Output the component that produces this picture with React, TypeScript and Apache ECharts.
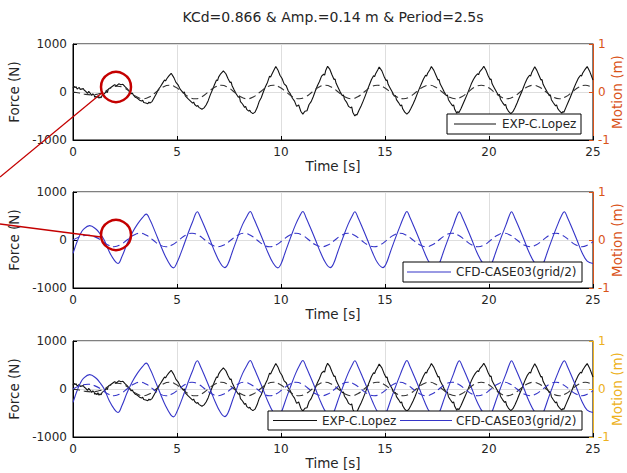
import React, { useEffect, useRef } from "react";
import * as echarts from "echarts";

const chartTitle = "KCd=0.866 & Amp.=0.14 m & Period=2.5s";
const expName = "EXP-C.Lopez";
const cfdName = "CFD-CASE03(grid/2)";
const motionLabel = "Motion (m)";

// EXP force: [time s, force N]
const expForce: number[][] = [
  [0.0, 80], [0.05, 120], [0.1, 90], [0.15, 110], [0.2, 60], [0.3, 95], [0.35, 50], [0.4, 60], [0.5, 70], [0.55, 30], [0.6, 20], [0.7, -30], [0.75, 10], [0.8, -10], [0.9, -70],
  [0.95, -40], [1.0, -50], [1.05, -110], [1.1, -90], [1.15, -120], [1.2, -80], [1.25, -130], [1.3, -100], [1.35, -120], [1.4, -70], [1.5, -40], [1.6, 10], [1.65, -10], [1.7, 60], [1.8, 90], [1.9, 120],
  [2.0, 150], [2.1, 130], [2.2, 170], [2.3, 150], [2.4, 160], [2.5, 110], [2.6, 70], [2.7, 20], [2.8, -40], [2.85, -20], [2.9, -60],
  [3.0, -110], [3.1, -130], [3.2, -170], [3.3, -190], [3.35, -170], [3.4, -220], [3.5, -230], [3.6, -245], [3.65, -210], [3.7, -230], [3.8, -200], [3.9, -120],
  [4.0, -40], [4.1, 50], [4.2, 110], [4.3, 180], [4.4, 250], [4.45, 230], [4.5, 270], [4.6, 330], [4.72, 390], [4.85, 300], [4.95, 200],
  [5.05, 150], [5.15, 60], [5.3, -20], [5.35, 0], [5.4, -80], [5.55, -150], [5.65, -190], [5.75, -230], [5.8, -210], [5.85, -260], [5.95, -300], [6.0, -280], [6.05, -320],
  [6.2, -360], [6.3, -330], [6.4, -270], [6.5, -180], [6.6, -60], [6.7, 40], [6.8, 150], [6.9, 250], [6.95, 240], [7.0, 310], [7.1, 380],
  [7.23, 440], [7.35, 380], [7.45, 280], [7.55, 200], [7.6, 210], [7.65, 130], [7.75, 40], [7.85, -40], [7.95, -110], [8.0, -90], [8.05, -200], [8.15, -250],
  [8.25, -320], [8.3, -300], [8.35, -360], [8.45, -400], [8.5, -380], [8.55, -420], [8.65, -450], [8.75, -420], [8.85, -330], [8.95, -200], [9.05, -120], [9.15, 0],
  [9.25, 110], [9.35, 200], [9.45, 330], [9.5, 310], [9.55, 360], [9.65, 450], [9.75, 530], [9.85, 460], [9.95, 350], [10.05, 280], [10.15, 170],
  [10.25, 130], [10.35, 20], [10.45, -40], [10.55, -130], [10.65, -190], [10.75, -300], [10.85, -270], [10.95, -400], [11.05, -460], [11.15, -400],
  [11.25, -390], [11.35, -260], [11.45, -200], [11.55, -100], [11.65, 20], [11.75, 130], [11.85, 220], [11.95, 330], [12.05, 370], [12.1, 350], [12.15, 450],
  [12.24, 535], [12.35, 470], [12.45, 360], [12.55, 260], [12.6, 270], [12.65, 180], [12.75, 90], [12.85, 0], [12.95, -80], [13.0, -60], [13.05, -150], [13.15, -210],
  [13.25, -300], [13.35, -330], [13.4, -310], [13.45, -420], [13.55, -500], [13.6, -470], [13.65, -480], [13.75, -380], [13.85, -290], [13.95, -190], [14.05, -80], [14.15, 40],
  [14.25, 150], [14.35, 260], [14.45, 340], [14.5, 320], [14.55, 380], [14.65, 460], [14.72, 520], [14.85, 440], [14.95, 330], [15.05, 240], [15.1, 250], [15.15, 160],
  [15.25, 80], [15.35, 0], [15.45, -90], [15.5, -70], [15.55, -160], [15.65, -220], [15.75, -290], [15.8, -270], [15.85, -350], [15.95, -420], [16.05, -460], [16.15, -420],
  [16.25, -340], [16.35, -250], [16.45, -150], [16.55, -40], [16.65, 70], [16.75, 170], [16.85, 270], [16.95, 350], [17.0, 330], [17.05, 390], [17.15, 460],
  [17.23, 530], [17.35, 450], [17.45, 350], [17.55, 250], [17.6, 260], [17.65, 170], [17.75, 90], [17.85, 0], [17.95, -80], [18.0, -60], [18.05, -160], [18.15, -230],
  [18.25, -290], [18.3, -270], [18.35, -360], [18.45, -440], [18.5, -410], [18.55, -430], [18.65, -350], [18.75, -250], [18.85, -150], [18.95, -50], [19.05, 60], [19.15, 170],
  [19.25, 260], [19.35, 330], [19.45, 380], [19.5, 360], [19.55, 420], [19.65, 470], [19.75, 535], [19.85, 460], [19.95, 350], [20.05, 260], [20.1, 270], [20.15, 170],
  [20.25, 90], [20.35, 10], [20.45, -70], [20.5, -50], [20.55, -150], [20.65, -220], [20.75, -280], [20.8, -260], [20.85, -340], [20.95, -410], [21.05, -450], [21.15, -410],
  [21.25, -330], [21.35, -230], [21.45, -120], [21.55, -20], [21.65, 90], [21.75, 200], [21.85, 290], [21.95, 350], [22.0, 330], [22.05, 400], [22.2, 525],
  [22.3, 450], [22.4, 350], [22.5, 250], [22.55, 260], [22.6, 160], [22.7, 80], [22.8, 0], [22.9, -80], [22.95, -60], [23.0, -160], [23.1, -230], [23.2, -290],
  [23.25, -270], [23.3, -340], [23.4, -400], [23.5, -440], [23.55, -410], [23.6, -420], [23.7, -320], [23.8, -220], [23.9, -120], [24.0, -10], [24.1, 100], [24.2, 200],
  [24.3, 290], [24.4, 350], [24.45, 330], [24.5, 390], [24.6, 460], [24.72, 530], [24.85, 420], [25.0, 250],
];

// EXP motion: [time s, displacement m]
const expMotion: number[][] = [
  [0, 0], [0.3, -0.02], [0.6, -0.05], [0.9, -0.06], [1.2, -0.04], [1.5, 0], [1.81, 0.085], [2.13, 0.12], [2.44, 0.09], [2.75, 0],
  [3.06, -0.099], [3.38, -0.14], [3.69, -0.099], [4.0, 0], [4.31, 0.099], [4.63, 0.14], [4.94, 0.099], [5.25, 0],
  [5.56, -0.099], [5.88, -0.14], [6.19, -0.099], [6.5, 0], [6.81, 0.099], [7.13, 0.14], [7.44, 0.099], [7.75, 0],
  [8.06, -0.099], [8.38, -0.14], [8.69, -0.099], [9.0, 0], [9.31, 0.099], [9.63, 0.14], [9.94, 0.099], [10.25, 0],
  [10.56, -0.099], [10.88, -0.14], [11.19, -0.099], [11.5, 0], [11.81, 0.099], [12.13, 0.14], [12.44, 0.099], [12.75, 0],
  [13.06, -0.099], [13.38, -0.14], [13.69, -0.099], [14.0, 0], [14.31, 0.099], [14.63, 0.14], [14.94, 0.099], [15.25, 0],
  [15.56, -0.099], [15.88, -0.14], [16.19, -0.099], [16.5, 0], [16.81, 0.099], [17.13, 0.14], [17.44, 0.099], [17.75, 0],
  [18.06, -0.099], [18.38, -0.14], [18.69, -0.099], [19.0, 0], [19.31, 0.099], [19.63, 0.14], [19.94, 0.099], [20.25, 0],
  [20.56, -0.099], [20.88, -0.14], [21.19, -0.099], [21.5, 0], [21.81, 0.099], [22.13, 0.14], [22.44, 0.099], [22.75, 0],
  [23.06, -0.099], [23.38, -0.14], [23.69, -0.099], [24.0, 0], [24.31, 0.099], [24.63, 0.14], [25.0, 0.085],
];

// CFD force: [time s, force N]
const cfdForce: number[][] = [
  [0.0, -280], [0.1, -150], [0.2, -30], [0.35, 120], [0.5, 220], [0.8, 300], [1.1, 230], [1.3, 130], [1.5, 0], [1.75, -250],
  [2.0, -430], [2.16, -490], [2.35, -350], [2.6, -80], [2.85, 150], [3.1, 330], [3.35, 470], [3.52, 540], [3.7, 420], [3.95, 170],
  [4.2, -100], [4.45, -350], [4.7, -540], [4.83, -580], [5.0, -470], [5.25, -200], [5.5, 100], [5.75, 380],
  [5.98, 590], [6.13, 470], [6.33, 270], [6.58, 10], [6.83, -260], [7.08, -480], [7.3, -575], [7.45, -500], [7.65, -260], [7.9, 40], [8.15, 320], [8.37, 500],
  [8.52, 595], [8.67, 470], [8.87, 270], [9.12, 10], [9.37, -260], [9.62, -480], [9.85, -580], [10.0, -500], [10.2, -260], [10.45, 40], [10.7, 320], [10.9, 500],
  [11.05, 595], [11.2, 470], [11.4, 270], [11.65, 10], [11.9, -260], [12.15, -480], [12.37, -575], [12.52, -500], [12.72, -260], [12.97, 40], [13.22, 320], [13.42, 500],
  [13.55, 590], [13.7, 470], [13.9, 270], [14.15, 10], [14.4, -260], [14.65, -480], [14.9, -575], [15.05, -500], [15.25, -260], [15.5, 40], [15.75, 320], [15.92, 500],
  [16.05, 595], [16.2, 470], [16.4, 270], [16.65, 10], [16.9, -260], [17.15, -480], [17.45, -580], [17.6, -500], [17.8, -260], [18.05, 40], [18.3, 320], [18.45, 500],
  [18.57, 590], [18.72, 470], [18.92, 270], [19.17, 10], [19.42, -260], [19.7, -480], [19.98, -575], [20.12, -500], [20.32, -260], [20.57, 40], [20.82, 320], [20.97, 500],
  [21.08, 590], [21.23, 470], [21.43, 270], [21.68, 10], [21.93, -260], [22.2, -480], [22.45, -575], [22.6, -500], [22.8, -260], [23.05, 40], [23.3, 320], [23.48, 500],
  [23.62, 590], [23.77, 470], [23.97, 270], [24.22, 10], [24.47, -260], [24.72, -440], [25.0, -490],
];

// CFD motion: [time s, displacement m]
const cfdMotion: number[][] = [
  [0, 0], [0.35, 0.07], [0.72, 0.1], [1.03, 0.07], [1.345, 0], [1.66, -0.099], [1.97, -0.14], [2.28, -0.099],
  [2.595, 0], [2.91, 0.099], [3.22, 0.14], [3.53, 0.099], [3.845, 0], [4.16, -0.099], [4.47, -0.14], [4.78, -0.099],
  [5.095, 0], [5.41, 0.099], [5.72, 0.14], [6.03, 0.099], [6.345, 0], [6.66, -0.099], [6.97, -0.14], [7.28, -0.099],
  [7.595, 0], [7.91, 0.099], [8.22, 0.14], [8.53, 0.099], [8.845, 0], [9.16, -0.099], [9.47, -0.14], [9.78, -0.099],
  [10.095, 0], [10.41, 0.099], [10.72, 0.14], [11.03, 0.099], [11.345, 0], [11.66, -0.099], [11.97, -0.14], [12.28, -0.099],
  [12.595, 0], [12.91, 0.099], [13.22, 0.14], [13.53, 0.099], [13.845, 0], [14.16, -0.099], [14.47, -0.14], [14.78, -0.099],
  [15.095, 0], [15.41, 0.099], [15.72, 0.14], [16.03, 0.099], [16.345, 0], [16.66, -0.099], [16.97, -0.14], [17.28, -0.099],
  [17.595, 0], [17.91, 0.099], [18.22, 0.14], [18.53, 0.099], [18.845, 0], [19.16, -0.099], [19.47, -0.14], [19.78, -0.099],
  [20.095, 0], [20.41, 0.099], [20.72, 0.14], [21.03, 0.099], [21.345, 0], [21.66, -0.099], [21.97, -0.14], [22.28, -0.099],
  [22.595, 0], [22.91, 0.099], [23.22, 0.14], [23.53, 0.099], [23.845, 0], [24.16, -0.099], [24.47, -0.14], [24.78, -0.099],
  [25.0, -0.035],
];

const FONT = "DejaVu Sans";
const TXT = "#262626";
const BLACK = "#111111";
const BLUE = "#3535c8";
const RED = "#c40000";
const ORANGE = "#D95319";
const YELLOW = "#EDB120";

const gridTops = [44, 192, 341];
const GRID_H = 96;
const motionColors = [ORANGE, ORANGE, YELLOW];

export default function App() {
  const ref = useRef<HTMLDivElement>(null);
  useEffect(() => {
    if (!ref.current) return;
    const chart = echarts.init(ref.current, null, { renderer: "svg" });

    const grids = gridTops.map((top) => ({
      left: 73, top, width: 520, height: GRID_H, outerBoundsMode: "none", containLabel: false,
      show: true, borderColor: "#000", borderWidth: 1, backgroundColor: "transparent",
    }));

    const plain = (v: number) => String(v);

    const xAxes = gridTops.map((_, i) => ({
      type: "value", gridIndex: i, min: 0, max: 25, interval: 5,
      name: "Time [s]", nameLocation: "middle", nameGap: 19,
      nameTextStyle: { fontSize: 13.5, color: TXT, fontFamily: FONT },
      axisLine: { show: true, onZero: false, lineStyle: { color: "#000", width: 1 } },
      axisTick: { show: true, inside: true, length: 4, lineStyle: { color: "#000" } },
      axisLabel: { fontSize: 12, color: TXT, margin: 6, fontFamily: FONT, formatter: plain },
      splitLine: { show: true, lineStyle: { color: "#dedede", width: 1 } },
    }));

    const yAxes: any[] = [];
    gridTops.forEach((_, i) => {
      yAxes.push({
        type: "value", gridIndex: i, position: "left", min: -1000, max: 1000, interval: 1000,
        name: "Force (N)", nameLocation: "middle", nameGap: 39, nameRotate: 90,
        nameTextStyle: { fontSize: 13.5, color: TXT, fontFamily: FONT },
        axisLine: { show: true, onZero: false, lineStyle: { color: "#000", width: 1 } },
        axisTick: { show: true, inside: true, length: 4, lineStyle: { color: "#000" } },
        axisLabel: { fontSize: 12, color: TXT, margin: 6, fontFamily: FONT, formatter: plain },
        splitLine: { show: true, lineStyle: { color: "#dedede", width: 1 } },
      });
      yAxes.push({
        type: "value", gridIndex: i, position: "right", min: -1, max: 1, interval: 1,
        axisLine: { show: true, onZero: false, lineStyle: { color: motionColors[i], width: 1 } },
        axisTick: { show: true, inside: true, length: 4, lineStyle: { color: motionColors[i] } },
        axisLabel: { fontSize: 12, color: motionColors[i], margin: 5, fontFamily: FONT, formatter: plain },
        splitLine: { show: false },
      });
    });

    const line = (name: string, data: number[][], panel: number, motion: boolean, color: string, smooth: any) => ({
      type: "line", name, data, xAxisIndex: panel, yAxisIndex: panel * 2 + (motion ? 1 : 0),
      showSymbol: false, symbol: "none", smooth, z: motion ? 3 : 2,
      lineStyle: { color, width: 1.1, type: motion ? [7, 4] : "solid" },
      itemStyle: { color }, silent: true,
    });

    const series = [
      line(expName, expForce, 0, false, BLACK, false),
      line("EXP motion", expMotion, 0, true, "#333333", true),
      line(cfdName, cfdForce, 1, false, BLUE, 0.4),
      line("CFD motion", cfdMotion, 1, true, BLUE, true),
      line(expName + " ", expForce, 2, false, BLACK, false),
      line("EXP motion ", expMotion, 2, true, "#333333", true),
      line(cfdName + " ", cfdForce, 2, false, BLUE, 0.4),
      line("CFD motion ", cfdMotion, 2, true, BLUE, true),
    ];

    const legendText = (x: number, y: number, text: string) => ({
      type: "text", x, y, z: 100,
      style: { text, fill: TXT, fontSize: 12, fontFamily: FONT, textVerticalAlign: "middle", textAlign: "left" },
    });
    const legendLine = (x1: number, x2: number, y: number, color: string) => ({
      type: "line", z: 100, shape: { x1, y1: y, x2, y2: y }, style: { stroke: color, lineWidth: 1.2 },
    });
    const legendBox = (x: number, y: number, width: number, height: number) => ({
      type: "rect", z: 99, shape: { x, y, width, height }, style: { fill: "#fff", stroke: "#000", lineWidth: 1 },
    });
    const motionName = (i: number) => ({
      type: "text", x: 617, y: gridTops[i] + GRID_H / 2, rotation: Math.PI / 2, z: 50,
      style: {
        text: motionLabel, fill: motionColors[i], fontSize: 13.5, fontFamily: FONT,
        textAlign: "center", textVerticalAlign: "middle",
      },
    });

    const graphic = [
      motionName(0), motionName(1), motionName(2),
      legendBox(447, 114, 134, 20), legendLine(454, 496, 124, BLACK), legendText(502, 124, expName),
      legendBox(403, 262, 179, 20), legendLine(407, 451, 272, BLUE), legendText(456, 272, cfdName),
      legendBox(268, 411, 314, 19), legendLine(273, 317, 420.5, BLACK), legendText(322, 420.5, expName),
      legendLine(400, 452, 420.5, BLUE), legendText(456, 420.5, cfdName),
      { type: "circle", z: 200, shape: { cx: 116, cy: 87, r: 15 }, style: { fill: "none", stroke: RED, lineWidth: 2.5 } },
      { type: "circle", z: 200, shape: { cx: 116, cy: 235, r: 15 }, style: { fill: "none", stroke: RED, lineWidth: 2.5 } },
      { type: "line", z: 200, shape: { x1: 0, y1: 177, x2: 103, y2: 92 }, style: { stroke: RED, lineWidth: 1.3 } },
      { type: "line", z: 200, shape: { x1: 0, y1: 224, x2: 101, y2: 237 }, style: { stroke: RED, lineWidth: 1.3 } },
    ];

    chart.setOption({
      animation: false,
      backgroundColor: "#ffffff",
      textStyle: { fontFamily: FONT },
      title: {
        text: chartTitle, left: 328, top: 5, textAlign: "center",
        textStyle: { fontSize: 14, fontWeight: "normal", color: TXT, fontFamily: FONT },
      },
      grid: grids,
      xAxis: xAxes,
      yAxis: yAxes,
      series,
      graphic,
    });
    return () => chart.dispose();
  }, []);
  return (
    <div
      ref={ref}
      style={{ position: "fixed", left: 0, top: 0, width: 627, height: 473, background: "#fff" }}
    />
  );
}
